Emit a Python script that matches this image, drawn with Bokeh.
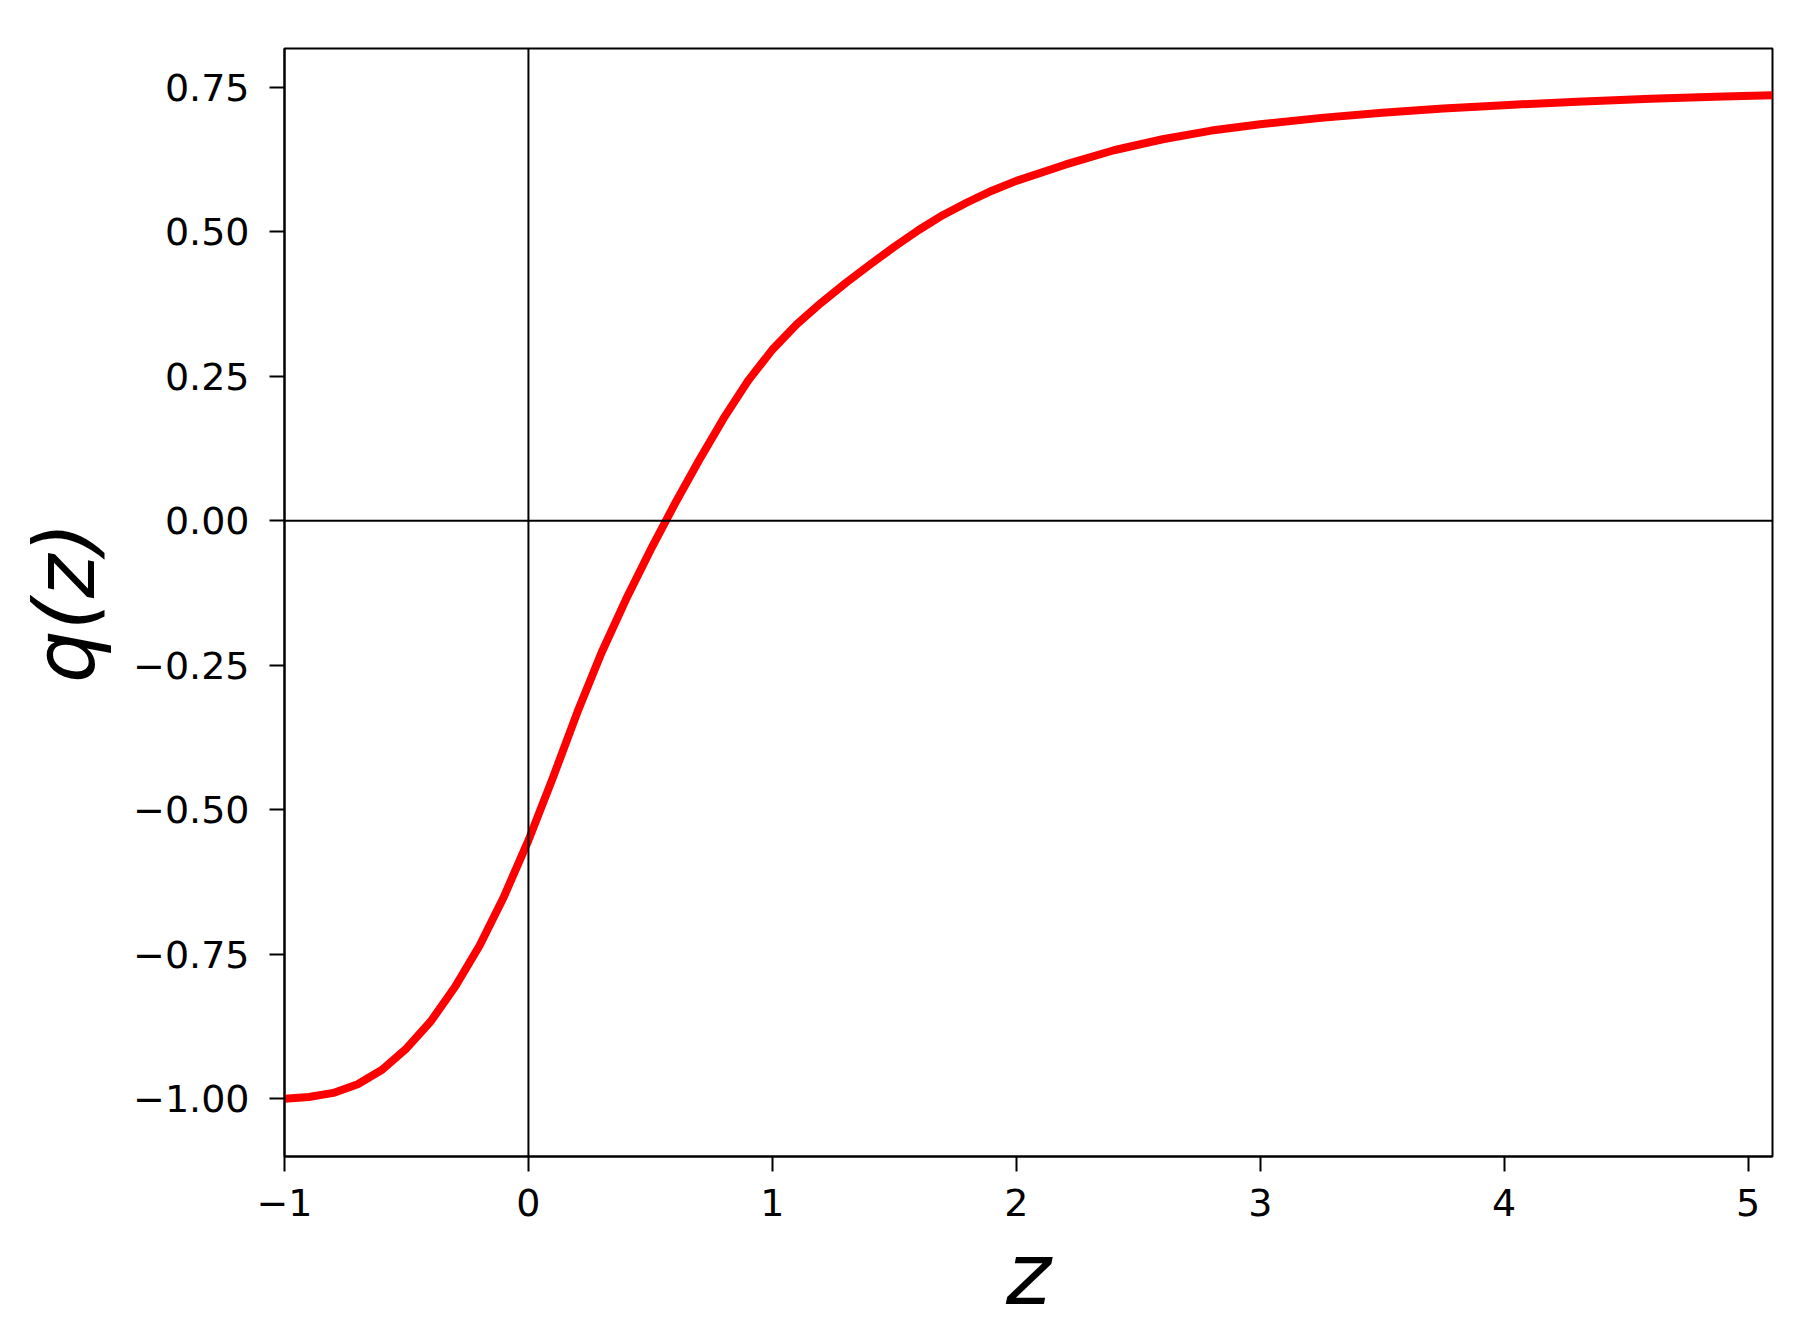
from bokeh.plotting import figure
from bokeh.models import Span, FixedTicker, Range1d
from bokeh.embed import file_html
from bokeh.resources import INLINE

# ---- data ----
z_vals = [-1.00, -0.90, -0.80, -0.70, -0.60, -0.50, -0.40, -0.30, -0.20, -0.10,
          0.00, 0.10, 0.20, 0.30, 0.40, 0.50, 0.60, 0.70, 0.80, 0.90,
          1.00, 1.10, 1.20, 1.30, 1.40, 1.50, 1.60, 1.70, 1.80, 1.90,
          2.00, 2.20, 2.40, 2.60, 2.80, 3.00, 3.25, 3.50, 3.75, 4.00,
          4.30, 4.60, 4.90, 5.10]
q_vals = [-1.000, -0.997, -0.990, -0.975, -0.950, -0.913, -0.866, -0.806, -0.735, -0.650,
          -0.553, -0.445, -0.332, -0.228, -0.136, -0.051, 0.029, 0.105, 0.177, 0.242,
          0.296, 0.340, 0.377, 0.411, 0.443, 0.474, 0.503, 0.529, 0.551, 0.571,
          0.588, 0.616, 0.641, 0.660, 0.675, 0.686, 0.697, 0.706, 0.713, 0.719,
          0.725, 0.730, 0.734, 0.736]

x_ticks = [-1, 0, 1, 2, 3, 4, 5]
x_tick_labels = ["\u22121", "0", "1", "2", "3", "4", "5"]
y_ticks = [-1.0, -0.75, -0.5, -0.25, 0.0, 0.25, 0.5, 0.75]
y_tick_labels = ["\u22121.00", "\u22120.75", "\u22120.50", "\u22120.25", "0.00", "0.25", "0.50", "0.75"]

x_label = "z"
y_label = "q(z)"

FONT = "DejaVu Sans"

p = figure(width=1800, height=1330, frame_width=1488, frame_height=1108,
           output_backend="svg", toolbar_location=None,
           x_range=Range1d(-1.0, 5.1), y_range=Range1d(-1.1, 0.817),
           min_border_left=284, min_border_right=28,
           min_border_top=48, min_border_bottom=174)

p.background_fill_color = "white"
p.border_fill_color = "white"
p.outline_line_color = "black"
p.outline_line_width = 2
p.xgrid.visible = False
p.ygrid.visible = False

# zero reference lines
p.add_layout(Span(location=0, dimension="width", line_color="black", line_width=2))
p.add_layout(Span(location=0, dimension="height", line_color="black", line_width=2))

p.line(z_vals, q_vals, line_color="#ff0000", line_width=8, line_join="round")

for ax, ticks, labels in ((p.xaxis[0], x_ticks, x_tick_labels), (p.yaxis[0], y_ticks, y_tick_labels)):
    ax.ticker = FixedTicker(ticks=ticks)
    ax.major_label_overrides = {float(t): lab for t, lab in zip(ticks, labels)}
    ax.minor_tick_line_color = None
    ax.major_tick_in = 0
    ax.major_tick_out = 15
    ax.major_tick_line_width = 2
    ax.major_tick_line_color = "black"
    ax.axis_line_color = "black"
    ax.axis_line_width = 2
    ax.major_label_text_font = FONT
    ax.major_label_text_font_size = "38px"
    ax.major_label_text_color = "black"
    ax.axis_label_text_font = FONT
    ax.axis_label_text_font_style = "italic"
    ax.axis_label_text_color = "black"

p.xaxis[0].axis_label = x_label
p.yaxis[0].axis_label = y_label
p.xaxis[0].axis_label_text_font_size = "86px"
p.yaxis[0].axis_label_text_font_size = "83px"
p.xaxis[0].major_label_standoff = 17
p.yaxis[0].major_label_standoff = 20
p.xaxis[0].axis_label_standoff = 5
p.yaxis[0].axis_label_standoff = 16

open("out.html", "w").write(file_html(p, INLINE))
